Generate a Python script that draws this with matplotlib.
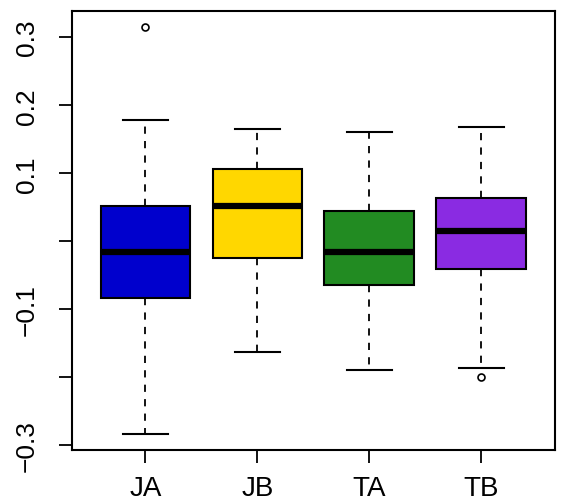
import numpy as np
import matplotlib.pyplot as plt

plt.rcParams['font.family'] = ['Liberation Sans', 'DejaVu Sans']

# box statistics
groups = ["JA", "JB", "TA", "TB"]
colors = ["#0000CD", "#FFD700", "#228B22", "#8A2BE2"]
whislo = [-0.2825, -0.163, -0.1884, -0.1865]
q1 = [-0.0831, -0.0247, -0.0644, -0.0413]
med = [-0.0159, 0.0522, -0.0154, 0.0154]
q3 = [0.0522, 0.106, 0.044, 0.0635]
whishi = [0.1787, 0.165, 0.1606, 0.1684]
fliers = [[0.3146], [], [], [-0.1993]]

yticks = [-0.3, -0.2, -0.1, 0.0, 0.1, 0.2, 0.3]
ytick_labels = ["\u22120.3", "", "\u22120.1", "", "0.1", "0.2", "0.3"]

stats = []
for i in range(len(groups)):
    stats.append(dict(label=groups[i], whislo=whislo[i], q1=q1[i], med=med[i],
                      q3=q3[i], whishi=whishi[i], fliers=fliers[i]))

fig = plt.figure(figsize=(5.64, 5.02), dpi=100)
ax = fig.add_axes([0.127, 0.102, 0.857, 0.874])

bp = ax.bxp(stats, positions=np.arange(1, 5), widths=0.8, patch_artist=True,
            boxprops=dict(linewidth=1.5, edgecolor="black"),
            medianprops=dict(color="black", linewidth=4.5, solid_capstyle="butt"),
            whiskerprops=dict(color="black", linewidth=1.3, linestyle=(0, (4, 4))),
            capprops=dict(color="black", linewidth=1.5),
            capwidths=0.4,
            flierprops=dict(marker="o", markerfacecolor="none", markeredgecolor="black",
                            markersize=5, markeredgewidth=1.2))
for patch, c in zip(bp["boxes"], colors):
    patch.set_facecolor(c)

allv = whislo + whishi + [v for f in fliers for v in f]
lo, hi = min(allv), max(allv)
pad = 0.04 * (hi - lo)
ax.set_ylim(lo - pad, hi + pad)
ax.set_xlim(0.34, 4.66)

ax.set_yticks(yticks)
ax.set_yticklabels(ytick_labels, rotation=90, va="center", fontsize=19)
ax.set_xticks(np.arange(1, 5))
ax.set_xticklabels(groups, fontsize=20)
ax.tick_params(axis="y", length=9.5, width=1.3, pad=14)
ax.tick_params(axis="x", length=9.5, width=1.3, pad=9)
for s in ax.spines.values():
    s.set_linewidth(1.5)

fig.savefig("out.png", dpi=100)
